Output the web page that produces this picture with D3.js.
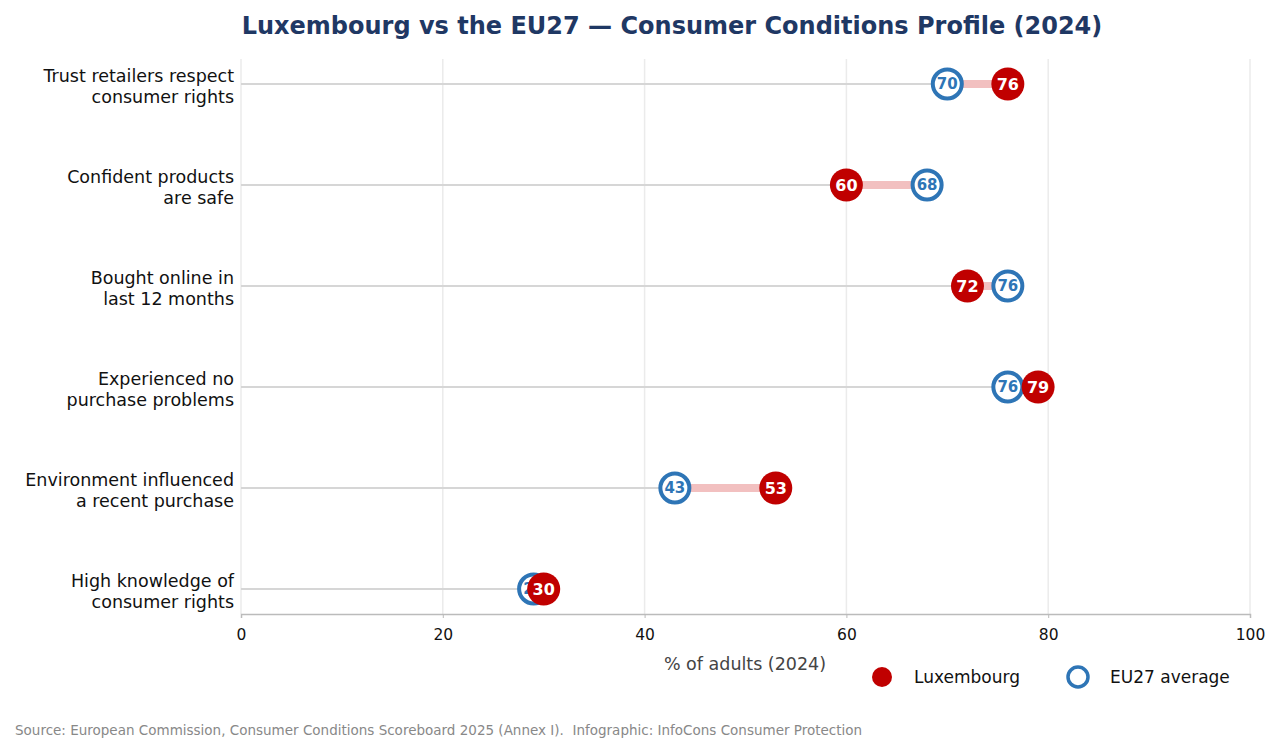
<!DOCTYPE html>
<html><head><meta charset="utf-8">
<script src="https://cdn.jsdelivr.net/npm/d3@7"></script>
<style>body{margin:0;background:#fff;font-family:"DejaVu Sans",sans-serif;}</style>
</head><body><div id="root"></div>
<script>
const categories = [
    ["Trust retailers respect", "consumer rights"],
    ["Confident products", "are safe"],
    ["Bought online in", "last 12 months"],
    ["Experienced no", "purchase problems"],
    ["Environment influenced", "a recent purchase"],
    ["High knowledge of", "consumer rights"]
];
const luxembourg = [76, 60, 72, 79, 53, 30];
const eu27 = [70, 68, 76, 76, 43, 29];
const xTicks = [0, 20, 40, 60, 80, 100];

const W = 1282, H = 753;
const svg = d3.select("#root").append("svg").attr("width", W).attr("height", H);

const x = d3.scaleLinear().domain([0, 100]).range([241, 1250]);
const y = d3.scalePoint().domain(d3.range(categories.length)).range([84, 589]);

svg.append("text").attr("x", 672).attr("y", 34).attr("text-anchor", "middle")
    .attr("font-size", 24).attr("font-weight", "bold").attr("fill", "#1f3864")
    .text("Luxembourg vs the EU27 \u2014 Consumer Conditions Profile (2024)");

// grid
svg.selectAll(".grid").data(xTicks).enter().append("line")
    .attr("x1", d => x(d)).attr("x2", d => x(d)).attr("y1", 59).attr("y2", 614)
    .attr("stroke", "#ebebeb").attr("stroke-width", 1.5);

// axis
const ax = svg.append("g").attr("transform", "translate(0,614)")
    .call(d3.axisBottom(x).tickValues(xTicks).tickSize(4).tickFormat(d3.format("d")));
ax.select(".domain").attr("stroke", "#bbb").attr("stroke-width", 1.5);
ax.selectAll(".tick line").attr("stroke", "#bbb");
ax.selectAll("text").attr("font-size", 15.5).attr("font-family", "DejaVu Sans").attr("fill", "#111").attr("dy", "1.25em");

svg.append("text").attr("x", 745).attr("y", 670).attr("text-anchor", "middle")
    .attr("font-size", 17.5).attr("fill", "#444").text("% of adults (2024)");

const rows = svg.selectAll(".row").data(categories).enter().append("g")
    .attr("transform", (d, i) => `translate(0,${y(i)})`);

rows.append("text").attr("x", 234).attr("text-anchor", "end").attr("font-size", 17.5).attr("fill", "#111")
    .selectAll("tspan").data(d => d).enter().append("tspan")
    .attr("x", 234).attr("y", (d, j) => j === 0 ? -2 : 19).text(d => d);

rows.append("line").attr("x1", x(0)).attr("x2", (d, i) => x(Math.min(luxembourg[i], eu27[i])))
    .attr("stroke", "#d6d6d6").attr("stroke-width", 2);
rows.append("line")
    .attr("x1", (d, i) => x(Math.min(luxembourg[i], eu27[i])))
    .attr("x2", (d, i) => x(Math.max(luxembourg[i], eu27[i])))
    .attr("stroke", "#f2c0c0").attr("stroke-width", 8);

rows.append("circle").attr("cx", (d, i) => x(eu27[i])).attr("r", 14.5)
    .attr("fill", "#fff").attr("stroke", "#2e75b6").attr("stroke-width", 4);
rows.append("text").attr("x", (d, i) => x(eu27[i])).attr("dy", "0.35em").attr("text-anchor", "middle")
    .attr("font-size", 15).attr("font-weight", "bold").attr("fill", "#2e75b6").text((d, i) => eu27[i]);
rows.append("circle").attr("cx", (d, i) => x(luxembourg[i])).attr("r", 16.5).attr("fill", "#c00000");
rows.append("text").attr("x", (d, i) => x(luxembourg[i])).attr("dy", "0.35em").attr("text-anchor", "middle")
    .attr("font-size", 16).attr("font-weight", "bold").attr("fill", "#fff").text((d, i) => luxembourg[i]);

// legend
svg.append("circle").attr("cx", 882).attr("cy", 677).attr("r", 10).attr("fill", "#c00000");
svg.append("text").attr("x", 914).attr("y", 683).attr("font-size", 17).attr("fill", "#111").text("Luxembourg");
svg.append("circle").attr("cx", 1078).attr("cy", 677).attr("r", 10).attr("fill", "#fff")
    .attr("stroke", "#2e75b6").attr("stroke-width", 3.5);
svg.append("text").attr("x", 1110).attr("y", 683).attr("font-size", 17).attr("fill", "#111").text("EU27 average");

svg.append("text").attr("x", 15).attr("y", 735).attr("font-size", 13.5).attr("fill", "#888")
    .attr("xml:space", "preserve")
    .text("Source: European Commission, Consumer Conditions Scoreboard 2025 (Annex I).  Infographic: InfoCons Consumer Protection");
</script></body></html>
